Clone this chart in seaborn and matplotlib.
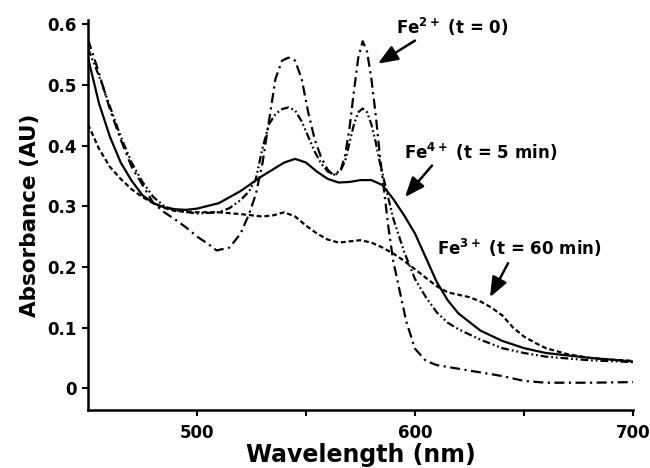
import numpy as np
import pandas as pd
import matplotlib
matplotlib.use('Agg')
import matplotlib.pyplot as plt
import seaborn as sns

# Fe2+ (t = 0), dash-dot
wl_fe2 = [450, 455, 460, 465, 470, 475, 480, 485, 490, 495, 500, 505, 509, 515, 520, 524, 527,
          530, 533, 536, 539, 542, 545, 548, 551, 554, 557, 560, 563, 566, 568, 570, 572, 574,
          576, 578, 580, 582, 584, 586, 588, 590, 593, 596, 600, 605, 610, 620, 630, 640, 650,
          660, 680, 700]
abs_fe2 = [0.575, 0.52, 0.46, 0.41, 0.365, 0.335, 0.305, 0.29, 0.278, 0.265, 0.25, 0.238, 0.227,
           0.232, 0.255, 0.288, 0.32, 0.37, 0.44, 0.51, 0.54, 0.545, 0.54, 0.51, 0.455, 0.41,
           0.38, 0.36, 0.35, 0.36, 0.385, 0.43, 0.49, 0.545, 0.572, 0.555, 0.51, 0.45, 0.38,
           0.32, 0.26, 0.21, 0.16, 0.11, 0.065, 0.045, 0.038, 0.032, 0.026, 0.02, 0.012, 0.009,
           0.009, 0.01]

# intermediate trace, dash-dot-dot
wl_mid = [450, 455, 460, 465, 470, 475, 480, 485, 490, 500, 510, 515, 520, 524, 527, 530, 533,
          536, 539, 542, 545, 548, 551, 554, 557, 560, 563, 566, 568, 570, 572, 574, 576, 578,
          580, 582, 584, 587, 590, 595, 600, 605, 610, 615, 620, 630, 640, 650, 660, 680, 700]
abs_mid = [0.56, 0.515, 0.465, 0.415, 0.372, 0.34, 0.315, 0.30, 0.293, 0.288, 0.29, 0.297, 0.31,
           0.325, 0.345, 0.395, 0.435, 0.452, 0.46, 0.463, 0.458, 0.44, 0.415, 0.39, 0.37,
           0.357, 0.352, 0.36, 0.375, 0.405, 0.435, 0.455, 0.461, 0.455, 0.435, 0.405, 0.37,
           0.325, 0.28, 0.225, 0.18, 0.15, 0.125, 0.108, 0.097, 0.08, 0.066, 0.058, 0.052,
           0.046, 0.043]

# Fe4+ (t = 5 min), solid
wl_fe4 = [450, 455, 460, 465, 470, 475, 480, 485, 490, 495, 500, 510, 520, 530, 540, 545, 550,
          555, 560, 565, 570, 575, 580, 585, 590, 595, 600, 605, 610, 615, 620, 630, 640, 650,
          660, 680, 700]
abs_fe4 = [0.545, 0.47, 0.415, 0.372, 0.342, 0.318, 0.305, 0.298, 0.295, 0.294, 0.296, 0.305,
           0.325, 0.35, 0.372, 0.378, 0.372, 0.357, 0.345, 0.339, 0.34, 0.343, 0.343, 0.335,
           0.312, 0.285, 0.255, 0.215, 0.175, 0.145, 0.123, 0.095, 0.078, 0.066, 0.058, 0.05,
           0.044]

# Fe3+ (t = 60 min), short dashes
wl_fe3 = [450, 455, 460, 465, 470, 475, 480, 485, 490, 500, 510, 520, 530, 535, 540, 545, 550,
          555, 560, 565, 570, 575, 580, 585, 590, 595, 600, 605, 610, 615, 620, 625, 630, 635,
          640, 645, 650, 655, 660, 670, 680, 690, 700]
abs_fe3 = [0.435, 0.395, 0.365, 0.345, 0.328, 0.315, 0.305, 0.297, 0.292, 0.29, 0.29, 0.287,
           0.283, 0.285, 0.29, 0.283, 0.268, 0.255, 0.245, 0.24, 0.242, 0.244, 0.24, 0.232,
           0.222, 0.21, 0.196, 0.182, 0.168, 0.158, 0.154, 0.15, 0.143, 0.133, 0.12, 0.1,
           0.085, 0.075, 0.066, 0.056, 0.05, 0.047, 0.045]

frames = []
for name, wl, ab in [('fe2', wl_fe2, abs_fe2), ('mid', wl_mid, abs_mid),
                     ('fe4', wl_fe4, abs_fe4), ('fe3', wl_fe3, abs_fe3)]:
    frames.append(pd.DataFrame({'wavelength': wl, 'absorbance': ab, 'trace': name}))
df = pd.concat(frames, ignore_index=True)

sns.set_style('ticks')
plt.rcParams['font.family'] = ['DejaVu Sans']
plt.rcParams['font.weight'] = 'bold'
plt.rcParams['mathtext.fontset'] = 'dejavusans'
for key in ['text.color', 'axes.labelcolor', 'xtick.color', 'ytick.color', 'axes.edgecolor']:
    plt.rcParams[key] = 'black'

fig = plt.figure(figsize=(6.5, 4.68), dpi=100)
ax = fig.add_axes([0.1354, 0.1239, 0.8384, 0.8334])

line_dashes = {'fe2': (4.5, 2, 1, 2), 'mid': (3.5, 1.3, 0.8, 1.3, 0.8, 1.3),
               'fe4': '', 'fe3': (2.2, 1.3)}
sns.lineplot(data=df, x='wavelength', y='absorbance', hue='trace', style='trace',
             palette={k: 'black' for k in line_dashes}, dashes=line_dashes,
             linewidth=1.6, legend=False, sort=False, ax=ax)

ax.set_xlim(450, 700)
ax.set_ylim(-0.036, 0.607)
ax.set_xticks([500, 600, 700])
ax.set_xticks([550, 650], minor=True)
ax.set_yticks([0, 0.1, 0.2, 0.3, 0.4, 0.5, 0.6])
ax.set_yticklabels(['0', '0.1', '0.2', '0.3', '0.4', '0.5', '0.6'])
ax.tick_params(which='both', direction='out', length=4, width=1.5, color='black')
ax.tick_params(axis='x', pad=6, labelsize=12, labelcolor='black')
ax.tick_params(axis='y', pad=4, labelsize=12, labelcolor='black')
for lab in ax.get_xticklabels() + ax.get_yticklabels():
    lab.set_fontweight('bold')

for side in ['top', 'right']:
    ax.spines[side].set_visible(False)
for side in ['left', 'bottom']:
    ax.spines[side].set_linewidth(1.8)
    ax.spines[side].set_color('black')

ax.set_xlabel('Wavelength (nm)', fontsize=17, fontweight='bold', labelpad=1, color='black')
ax.set_ylabel('Absorbance (AU)', fontsize=15.5, fontweight='bold', labelpad=5, color='black')

arrow = dict(arrowstyle='-|>,head_length=1.0,head_width=0.4', color='black', lw=1.8,
             mutation_scale=12, shrinkA=0, shrinkB=0)
labels = [(r'Fe$^{\mathbf{2+}}$ (t = 0)', (617, 0.595), (600, 0.573), (583, 0.535)),
          (r'Fe$^{\mathbf{4+}}$ (t = 5 min)', (630, 0.389), (607.8, 0.367), (595.4, 0.315)),
          (r'Fe$^{\mathbf{3+}}$ (t = 60 min)', (648, 0.232), (642.7, 0.206), (634.4, 0.15))]
for text, pos, tail, head in labels:
    ax.text(pos[0], pos[1], text, fontsize=12, fontweight='bold', ha='center', va='center',
            color='black')
    ax.annotate('', xy=head, xytext=tail, arrowprops=arrow)

fig.savefig('out.png', dpi=100)
